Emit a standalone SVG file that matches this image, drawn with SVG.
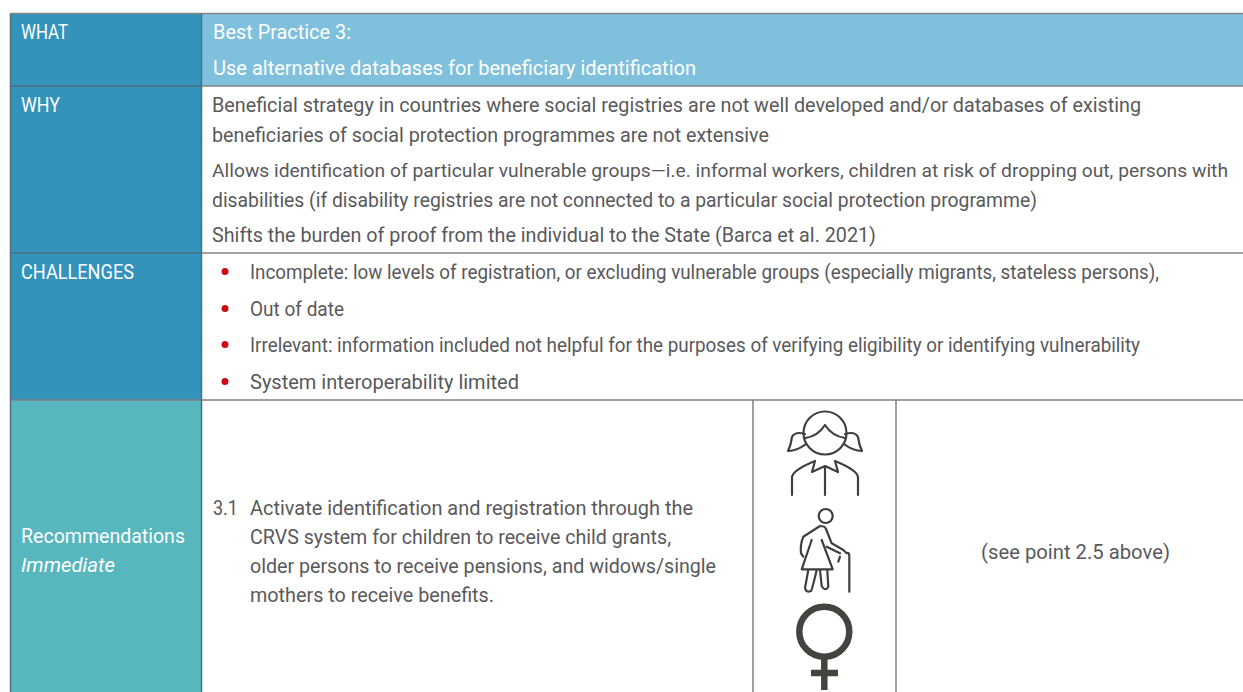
<svg xmlns="http://www.w3.org/2000/svg" width="1243" height="692" viewBox="0 0 1243 692">
<style>
text{font-family:"Roboto","Liberation Sans",sans-serif;font-size:20px;fill:#59595b}
.w{fill:#fff}
.b{fill:#fff}
.l{stroke:#838383;stroke-width:1.5;fill:none}
.m{stroke:#4f6f80;stroke-width:1.5;fill:none}
.i{fill:none;stroke:#3f3f3c;stroke-width:2.2;stroke-linecap:round;stroke-linejoin:round}
.d{fill:#cc0a15}
</style>
<rect width="1243" height="692" fill="#fff"/>
<g id="what">
<rect x="10.5" y="13.5" width="191" height="72.5" fill="#3393bb"/>
<rect x="201.5" y="13.5" width="1041.5" height="72.5" fill="#7fc0dc"/>
<text class="w" x="21" y="38.5" textLength="47" lengthAdjust="spacingAndGlyphs">WHAT</text>
<text class="b" x="213" y="38.5" textLength="138" lengthAdjust="spacingAndGlyphs">Best Practice 3:</text>
<text class="b" x="213" y="74.5" textLength="483" lengthAdjust="spacingAndGlyphs">Use alternative databases for beneficiary identification</text>
</g>
<g id="why">
<rect x="10.5" y="86" width="191" height="167" fill="#3393bb"/>
<text class="w" x="21" y="111.5" textLength="39" lengthAdjust="spacingAndGlyphs">WHY</text>
<text x="212" y="111.5" textLength="929" lengthAdjust="spacingAndGlyphs">Beneficial strategy in countries where social registries are not well developed and/or databases of existing</text>
<text x="212" y="141.5" textLength="557" lengthAdjust="spacingAndGlyphs">beneficiaries of social protection programmes are not extensive</text>
<text x="212" y="176.5" font-size="19" style="font-size:19px" textLength="1016" lengthAdjust="spacingAndGlyphs">Allows identification of particular vulnerable groups—i.e. informal workers, children at risk of dropping out, persons with</text>
<text x="212" y="206.5" textLength="825" lengthAdjust="spacingAndGlyphs">disabilities (if disability registries are not connected to a particular social protection programme)</text>
<text x="212" y="241.5" textLength="664" lengthAdjust="spacingAndGlyphs">Shifts the burden of proof from the individual to the State (Barca et al. 2021)</text>
</g>
<g id="challenges">
<rect x="10.5" y="253" width="191" height="147" fill="#3393bb"/>
<text class="w" x="21" y="278.5" textLength="113" lengthAdjust="spacingAndGlyphs">CHALLENGES</text>
<circle class="d" cx="225" cy="271.5" r="3.5"/>
<circle class="d" cx="225" cy="308.5" r="3.5"/>
<circle class="d" cx="225" cy="344.5" r="3.5"/>
<circle class="d" cx="225" cy="381.5" r="3.5"/>
<text x="250" y="278.5" textLength="909" lengthAdjust="spacingAndGlyphs">Incomplete: low levels of registration, or excluding vulnerable groups (especially migrants, stateless persons),</text>
<text x="250" y="315.5" textLength="94" lengthAdjust="spacingAndGlyphs">Out of date</text>
<text x="250" y="351.5" textLength="890" lengthAdjust="spacingAndGlyphs">Irrelevant: information included not helpful for the purposes of verifying eligibility or identifying vulnerability</text>
<text x="250" y="388.5" textLength="269" lengthAdjust="spacingAndGlyphs">System interoperability limited</text>
</g>
<g id="recommendations">
<rect x="10.5" y="400" width="191" height="292" fill="#57b6be"/>
<text class="w" x="21" y="542.5" textLength="164" lengthAdjust="spacingAndGlyphs">Recommendations</text>
<text class="w" x="21" y="571.5" textLength="94" lengthAdjust="spacingAndGlyphs" font-style="italic">Immediate</text>
<text x="213" y="514.5" textLength="25" lengthAdjust="spacingAndGlyphs">3.1</text>
<text x="250" y="514.5" textLength="443" lengthAdjust="spacingAndGlyphs">Activate identification and registration through the</text>
<text x="250" y="543.5" textLength="421" lengthAdjust="spacingAndGlyphs">CRVS system for children to receive child grants,</text>
<text x="250" y="572.5" textLength="466" lengthAdjust="spacingAndGlyphs">older persons to receive pensions, and widows/single</text>
<text x="250" y="601.5" textLength="244" lengthAdjust="spacingAndGlyphs">mothers to receive benefits.</text>
<text x="981" y="558.5" textLength="189" lengthAdjust="spacingAndGlyphs">(see point 2.5 above)</text>
</g>
<g id="connectors">
<path class="l" d="M10.5 13.5H1243M201.5 86H1243M201.5 253H1243M10.5 400H1243M753 400V692M896 400V692"/>
<path class="m" d="M10.5 692V13.5M201.5 13.5V692M10.5 86H201.5M10.5 253H201.5"/>
</g>
<g id="icon-girl">
<circle class="i" cx="825" cy="433" r="21.5"/>
<path class="i" d="M805.5 438Q818 436 825 425Q832 436 845 438"/>
<path class="i" d="M805 434Q795 431 792 437Q791 445 788 451Q797 451 806 444M845 434Q855 431 858 437Q859 445 862 451Q853 451 844 444"/>
<path class="i" d="M792 495V477Q793 470 815 461M858 495V477Q857 470 835 461M825 468V495M815 461L812 472L825 466L838 472L835 461"/>
</g>
<g id="icon-older">
<circle class="i" cx="825.7" cy="516" r="7"/>
<path class="i" d="M820 526L803.3 536.7Q800 545 801 553.3L803.3 556.7M820 526Q825 526 826 529L831.7 543.3L843.3 550L846.7 553.3Q849.3 552 849.3 556V591.7M840 556.7L838.3 561.7M826.7 546.7L840 553.3M811.7 540L801.7 569.3H832.7L821.7 540M808.3 570L805 588Q806 593 811 591Q812 590 816.7 570M820 570L821.7 586Q825 592 828.3 587L827.3 570"/>
</g>
<g id="icon-female">
<circle cx="824.3" cy="631.7" r="25" fill="none" stroke="#44443f" stroke-width="6.5"/>
<path d="M824.3 656V690M811 673H838" fill="none" stroke="#44443f" stroke-width="6.5"/>
</g>
</svg>
